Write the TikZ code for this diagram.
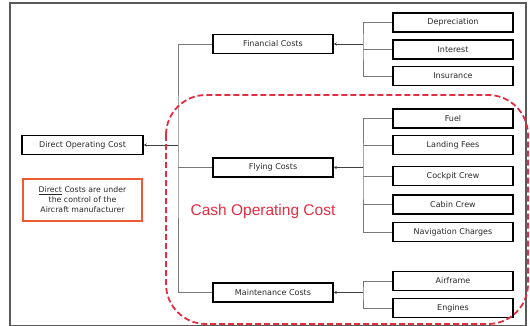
\documentclass[tikz,border=0pt]{standalone}
\usepackage{fontspec}
\setmainfont{DejaVu Sans}
\newfontfamily\arialf{Liberation Sans}
\usetikzlibrary{arrows.meta}
\definecolor{dashred}{RGB}{228,45,65}
\definecolor{notered}{RGB}{240,90,50}
\definecolor{connc}{RGB}{120,120,120}
\definecolor{framec}{RGB}{90,90,90}
\definecolor{txtc}{RGB}{40,40,40}
\begin{document}
\begin{tikzpicture}[x=1pt,y=-1pt,
  cbox/.style={draw=black,line width=1.5pt,minimum width=120pt,minimum height=19pt,inner sep=0pt,text=txtc,font=\fontsize{8}{9}\selectfont},
  conn/.style={draw=connc,line width=0.7pt},
  arr/.style={draw=black!75,line width=0.7pt,-{Stealth[length=3pt,width=3pt]}}]
\useasboundingbox (0,0) rectangle (530,326);
\draw[framec,line width=1.2pt] (10,3) rectangle (526,326);
% nodes
\node[cbox,minimum width=121pt] (doc) at (82.5,145) {Direct Operating Cost};
\node[cbox] (fin) at (273,44) {Financial Costs};
\node[cbox] (fly) at (273,167.5) {Flying Costs};
\node[cbox] (mnt) at (273,292.5) {Maintenance Costs};
\node[cbox] (dep) at (453,22.5) {Depreciation};
\node[cbox] (int) at (453,49.5) {Interest};
\node[cbox] (ins) at (453,76) {Insurance};
\node[cbox] (fuel) at (453,118.5) {Fuel};
\node[cbox] (land) at (453,145) {Landing Fees};
\node[cbox] (cock) at (453,176) {Cockpit Crew};
\node[cbox] (cab) at (453,204.5) {Cabin Crew};
\node[cbox] (nav) at (453,232) {Navigation Charges};
\node[cbox] (air) at (453,281) {Airframe};
\node[cbox] (eng) at (453,308) {Engines};
\node[draw=notered,line width=1.2pt,minimum width=119pt,minimum height=42pt,inner sep=0pt,align=center,text=txtc,font=\fontsize{7.8}{10}\selectfont] (note) at (82.5,200) {\underline{Direct} Costs are under\\the control of the\\Aircraft manufacturer};
\node[text=dashred,font=\arialf\fontsize{15.5}{17}\selectfont] (cash) at (263,211) {Cash Operating Cost};
% bus coordinates
\coordinate (bF) at (363,44);
\coordinate (bY) at (363,167.5);
\coordinate (bM) at (363,292.5);
\coordinate (bL) at (178,145);
% financial
\draw[conn] (dep.west) -| (bF) |- (ins.west);
\draw[conn] (int.west) -- (int.west -| bF);
\draw[arr] (bF) -- (fin.east);
% flying
\draw[conn] (fuel.west) -| (bY) |- (nav.west);
\draw[conn] (land.west) -- (land.west -| bY);
\draw[conn] (cock.west) -- (cock.west -| bY);
\draw[conn] (cab.west) -- (cab.west -| bY);
\draw[arr] (bY) -- (fly.east);
% maintenance
\draw[conn] (air.west) -| (bM) |- (eng.west);
\draw[arr] (bM) -- (mnt.east);
% left
\draw[conn] (fin.west) -| (bL) |- (mnt.west);
\draw[conn] (fly.west) -- (fly.west -| bL);
\draw[arr] (bL) -- (doc.east);
% dashed region
\draw[dashred,line width=1.8pt,dash pattern=on 6pt off 3pt,rounded corners=40pt] (166,95) rectangle (528,324);
\end{tikzpicture}
\end{document}
